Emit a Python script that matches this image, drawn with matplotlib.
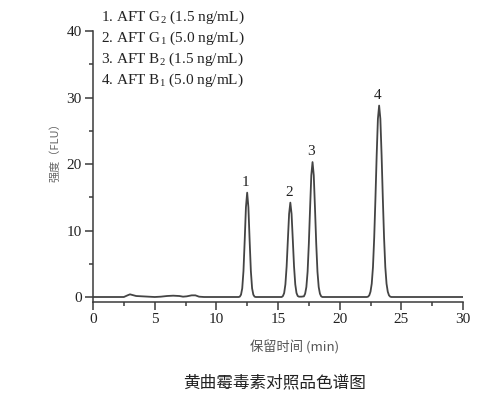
import matplotlib
matplotlib.use("Agg")
import matplotlib.pyplot as plt
from matplotlib.ticker import MultipleLocator

# Chromatogram points (time in min, intensity in FLU)
time_min = [0.0, 2.5, 2.8, 3.0, 3.2, 3.5, 4.0, 4.5, 5.0, 5.5, 6.0, 6.5, 7.0, 7.3, 7.6, 8.0, 8.3, 8.6, 9.0,
            10.0, 11.0, 11.8, 11.9, 12.0, 12.1, 12.2, 12.3, 12.4, 12.5, 12.6, 12.7, 12.8, 12.9, 13.0, 13.1, 13.2,
            14.0, 15.3, 15.4, 15.5, 15.6, 15.7, 15.8, 15.9, 16.0, 16.1, 16.2, 16.3, 16.4, 16.5, 16.6, 16.7,
            16.9, 17.1, 17.2, 17.3, 17.4, 17.5, 17.6, 17.7, 17.8, 17.9, 18.0, 18.1, 18.2, 18.3, 18.4, 18.5, 18.6,
            19.5, 21.0, 22.2, 22.3, 22.4, 22.5, 22.6, 22.7, 22.8, 22.9, 23.0, 23.1, 23.2, 23.3, 23.4, 23.5, 23.6,
            23.7, 23.8, 23.9, 24.0, 24.1, 24.2, 25.0, 30.0]
intensity = [0.0, 0.0, 0.25, 0.4, 0.3, 0.15, 0.1, 0.05, 0.0, 0.05, 0.15, 0.2, 0.15, 0.05, 0.1, 0.25, 0.25, 0.05, 0.0,
             0.0, 0.0, 0.0, 0.05, 0.35, 1.3, 3.9, 8.5, 13.5, 15.7, 13.5, 8.5, 3.9, 1.3, 0.35, 0.05, 0.0,
             0.0, 0.0, 0.15, 0.6, 1.9, 4.6, 8.6, 12.5, 14.2, 12.5, 8.6, 4.6, 1.9, 0.6, 0.15, 0.05,
             0.05, 0.1, 0.5, 1.5, 3.8, 8.0, 13.3, 18.3, 20.3, 18.3, 13.3, 8.0, 3.8, 1.5, 0.5, 0.1, 0.0,
             0.0, 0.0, 0.0, 0.05, 0.25, 0.8, 2.0, 4.5, 8.9, 14.8, 21.3, 26.8, 28.8, 26.8, 21.3, 14.8, 8.9,
             4.5, 2.0, 0.8, 0.25, 0.05, 0.0, 0.0, 0.0]

peak_labels = ["1", "2", "3", "4"]
peak_times = [12.5, 16.0, 17.8, 23.2]
peak_heights = [15.7, 14.2, 20.3, 28.8]

legend_lines = [r"1. AFT G$\mathregular{_2}$ (1.5 ng/mL)",
                r"2. AFT G$\mathregular{_1}$ (5.0 ng/mL)",
                r"3. AFT B$\mathregular{_2}$ (1.5 ng/mL)",
                r"4. AFT B$\mathregular{_1}$ (5.0 ng/mL)"]

serif = "Liberation Serif"
cjk = ["Noto Sans CJK SC", "DejaVu Sans"]
plt.rcParams["mathtext.fontset"] = "custom"
plt.rcParams["mathtext.rm"] = serif

fig = plt.figure(figsize=(5.0, 4.04), dpi=100)
ax = fig.add_axes([0.186, 0.2525, 0.74, 0.6705])
axc = "#3a3a3a"
ax.plot(time_min, intensity, color="#444444", lw=1.3)
for lab, t, h in zip(peak_labels, peak_times, peak_heights):
    ax.text(t - 0.1, h + 0.6, lab, ha="center", va="bottom", fontsize=11,
            family=serif, color="#222222")

ax.set_xlim(0, 30)
ax.set_ylim(-0.75, 40)
for s in ["top", "right"]:
    ax.spines[s].set_visible(False)
for s in ["left", "bottom"]:
    ax.spines[s].set_color(axc)
    ax.spines[s].set_linewidth(1.1)
ax.xaxis.set_major_locator(MultipleLocator(5))
ax.xaxis.set_minor_locator(MultipleLocator(2.5))
ax.yaxis.set_major_locator(MultipleLocator(10))
ax.yaxis.set_minor_locator(MultipleLocator(5))
ax.tick_params(which="major", length=6, width=1.1, color=axc, labelsize=11,
               labelcolor="#222222", direction="out", pad=2)
ax.tick_params(which="minor", length=3, width=1.1, color=axc, direction="out")
for lbl in ax.get_xticklabels() + ax.get_yticklabels():
    lbl.set_family(serif)

for i, line in enumerate(legend_lines):
    fig.text(0.202, 1 - (17 + 21.2 * i) / 404, line, ha="left", va="center",
             fontsize=11, family=serif, color="#222222")

fig.text(0.59, 1 - 347 / 404, "保留时间 (min)", ha="center", va="center",
         fontsize=9.5, family=cjk, color="#555555")
fig.text(0.11, 1 - 150 / 404, "强度（FLU）", ha="center", va="center", rotation=90,
         fontsize=8, family=cjk, color="#666666")
fig.text(0.55, 1 - 383 / 404, "黄曲霉毒素对照品色谱图", ha="center", va="center",
         fontsize=12, family=cjk, color="#222222")

fig.savefig("out.png", dpi=100)
